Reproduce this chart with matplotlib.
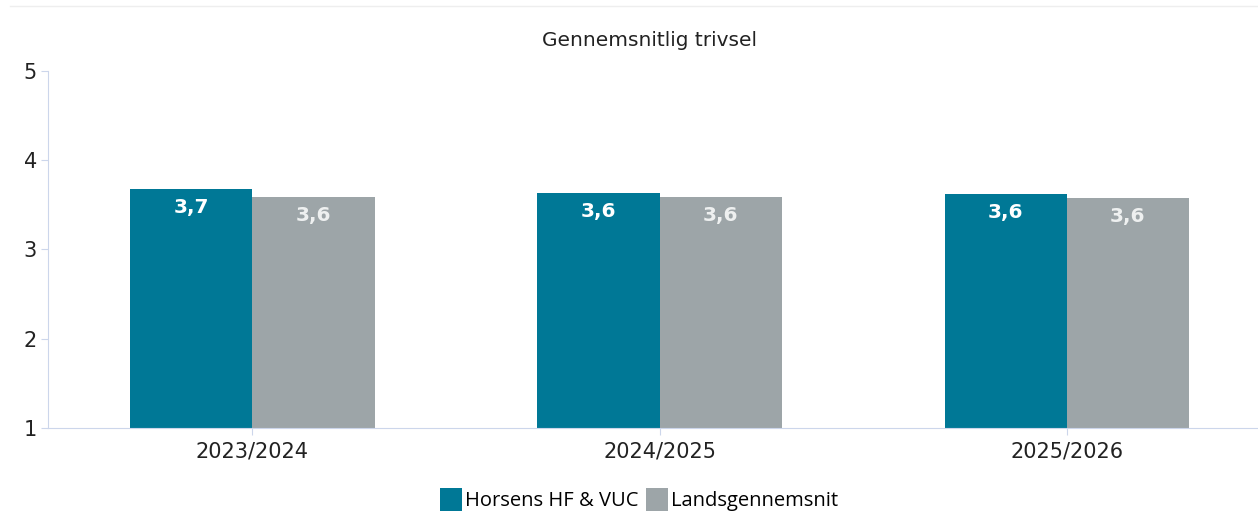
import matplotlib.pyplot as plt
import numpy as np

years = ['2023/2024', '2024/2025', '2025/2026']
horsens = [3.68, 3.63, 3.62]
lands = [3.59, 3.59, 3.58]
horsens_labels = ['3,7', '3,6', '3,6']
lands_labels = ['3,6', '3,6', '3,6']

teal = '#007896'
grey = '#9da5a8'

fig = plt.figure(figsize=(12.58, 5.14), dpi=100)
ax = fig.add_axes([0.0382, 0.1673, 0.9618, 0.6946])

x = np.arange(len(years))
w = 0.3
b1 = ax.bar(x - w / 2, horsens, w, color=teal, label='Horsens HF & VUC')
b2 = ax.bar(x + w / 2, lands, w, color=grey, label='Landsgennemsnit')

for bar, txt in zip(b1, horsens_labels):
    ax.text(bar.get_x() + bar.get_width() / 2, bar.get_height() - 0.1, txt,
            ha='center', va='top', color='white', fontsize=14.5, fontweight='bold')
for bar, txt in zip(b2, lands_labels):
    ax.text(bar.get_x() + bar.get_width() / 2, bar.get_height() - 0.1, txt,
            ha='center', va='top', color='#eef0f0', fontsize=14.5, fontweight='bold')

ax.set_ylim(1, 5)
ax.set_xlim(-0.502, 2.47)
ax.set_yticks([1, 2, 3, 4, 5])
ax.set_xticks(x)
ax.set_xticklabels(years)
ax.tick_params(axis='both', labelsize=15, colors='#ccd6eb', labelcolor='#222222', length=5)
ax.tick_params(axis='x', pad=5)
ax.tick_params(axis='y', pad=3)
for s in ['top', 'right']:
    ax.spines[s].set_visible(False)
ax.spines['left'].set_color('#ccd6eb')
ax.spines['bottom'].set_color('#ccd6eb')

fig.text(0.516, 1 - 40 / 514, 'Gennemsnitlig trivsel', ha='center', va='center',
         fontsize=14.5, color='#222222')

# thin line at the top
fig.add_artist(plt.Line2D([0.008, 1.0], [1 - 6 / 514, 1 - 6 / 514], color='#eeeeee', lw=1))

fig.legend(handles=[b1, b2], loc='upper center', bbox_to_anchor=(0.508, 1 - 470 / 514),
           ncol=2, frameon=False, handlelength=1.1, handleheight=1.4,
           handletextpad=0.15, columnspacing=0.4, prop={'family': 'Open Sans', 'size': 14.5})

fig.savefig('out.png', dpi=100)
